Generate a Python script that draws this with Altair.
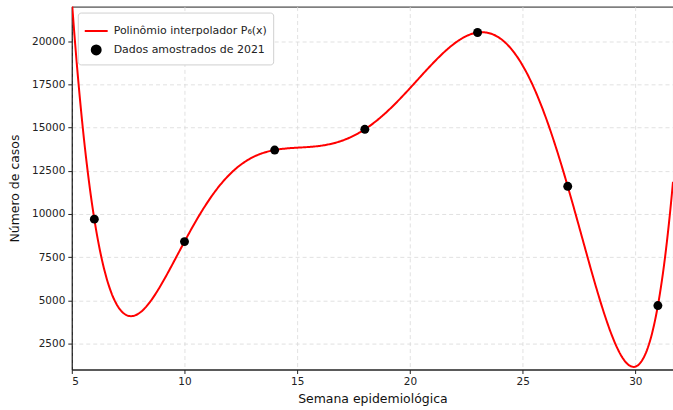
import numpy as np
import pandas as pd
import altair as alt

semanas = [6, 10, 14, 18, 23, 27, 31]
casos = [9700, 8400, 13700, 14900, 20500, 11600, 4700]
series_names = ["Polinômio interpolador P₆(x)", "Dados amostrados de 2021"]

# interpolating polynomial of degree 6 through the 7 sampled points
coef = np.polyfit(semanas, casos, 6)
xs = np.linspace(5, 31.67, 600)
curve = pd.DataFrame({"x": xs, "y": np.polyval(coef, xs), "serie": series_names[0]})
pts = pd.DataFrame({"x": semanas, "y": casos, "serie": series_names[1]})

xscale = alt.Scale(domain=[5, 31.67], nice=False, zero=False)
yscale = alt.Scale(domain=[1000, 22000], nice=False, zero=False)
color = alt.Color("serie:N", scale=alt.Scale(domain=series_names, range=["#ff0000", "#000000"]),
                  legend=alt.Legend(title=None, orient="none", legendX=6, legendY=6,
                                    fillColor="white", strokeColor="#d0d0d0", cornerRadius=3,
                                    padding=6, labelFontSize=11, labelFont="DejaVu Sans",
                                    labelColor="#222", rowPadding=5, symbolStrokeWidth=2,
                                    labelOffset=5))
shape = alt.Shape("serie:N", scale=alt.Scale(domain=series_names, range=["stroke", "circle"]))
size = alt.Size("serie:N", scale=alt.Scale(type="ordinal", domain=series_names, range=[529, 80]))

xaxis = alt.Axis(title="Semana epidemiológica", values=[5, 10, 15, 20, 25, 30], format="d")
yaxis = alt.Axis(title="Número de casos", values=[2500, 5000, 7500, 10000, 12500, 15000, 17500, 20000], format="d")

line = alt.Chart(curve).mark_line(strokeWidth=2, clip=True).encode(
    x=alt.X("x:Q", scale=xscale, axis=xaxis),
    y=alt.Y("y:Q", scale=yscale, axis=yaxis),
    color=color,
)
points = alt.Chart(pts).mark_point(filled=True, opacity=1, clip=True).encode(
    x=alt.X("x:Q", scale=xscale),
    y=alt.Y("y:Q", scale=yscale),
    color=color,
    shape=shape,
    size=size,
)

chart = alt.layer(line, points).properties(
    width=603, height=364,
    padding={"left": 72, "top": 6, "right": 0, "bottom": 40},
    autosize=alt.AutoSizeParams(type="none"),
).configure_view(stroke="#222", strokeWidth=1).configure_axis(
    grid=True, gridColor="#d9d9d9", gridDash=[4, 3], gridWidth=0.8,
    domainColor="#222", tickColor="#222", tickSize=4, labelFontSize=10.5,
    labelFont="DejaVu Sans", labelColor="#222", titleFont="DejaVu Sans",
    titleFontSize=12.5, titleFontWeight="normal", titleColor="#111", labelPadding=3,
).configure_axisX(titlePadding=6).configure_axisY(titlePadding=10, labelFlush=False)

chart.save("out.html", embed_options={"renderer": "svg", "actions": False})
